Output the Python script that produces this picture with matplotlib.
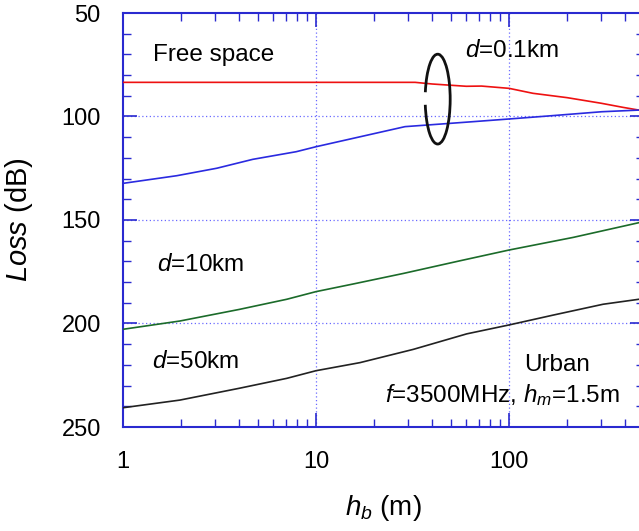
import matplotlib
matplotlib.use('Agg')
import matplotlib.pyplot as plt
from matplotlib.patches import Arc
from matplotlib.ticker import LogLocator, MultipleLocator, FixedLocator, FixedFormatter, NullFormatter

plt.rcParams['font.family'] = ['Liberation Sans', 'DejaVu Sans']
plt.rcParams['mathtext.fontset'] = 'custom'
plt.rcParams['mathtext.it'] = 'Liberation Sans:italic'
plt.rcParams['mathtext.rm'] = 'Liberation Sans'

# values (h_b in m, loss in dB)
hb_free = [1, 32.6, 40, 60, 72, 100, 133, 200, 300, 390, 470, 500]
loss_free = [83.5, 83.5, 84.3, 85.4, 85.3, 86.4, 88.8, 90.9, 93.6, 95.6, 96.9, 97.4]

hb_d01 = [1, 1.9, 3.06, 4.7, 7.9, 10, 16.9, 28.9, 42, 65, 100, 157, 302, 470, 500]
loss_d01 = [132.3, 128.6, 125.0, 120.7, 117.0, 114.6, 109.8, 104.9, 103.8, 102.5, 101.2, 99.8, 97.7, 96.9, 96.8]

hb_d10 = [1, 1.97, 4.0, 7.05, 10, 15.6, 28.4, 55.7, 100, 215, 470, 500]
loss_d10 = [202.8, 198.8, 193.2, 188.3, 184.6, 180.9, 175.8, 169.7, 164.5, 158.4, 151.3, 150.6]

hb_d50 = [1, 1.97, 4.0, 7.05, 10, 16.9, 31.9, 60.4, 100, 170, 307, 470, 500]
loss_d50 = [240.7, 237.0, 231.3, 226.5, 222.8, 218.9, 212.5, 205.0, 200.7, 195.9, 190.7, 188.3, 188.0]

x_ticks = [1, 10, 100]
x_ticklabels = ['1', '10', '100']
grid_x = [10, 100]
grid_y = [100, 150, 200]

axis_blue = '#2a2ad0'
grid_blue = '#6a6aff'

fig = plt.figure(figsize=(6.39, 5.31), dpi=100)
ax = fig.add_axes([123 / 639, 1 - 427 / 531, 521 / 639, 414 / 531])

for gx in grid_x:
    ax.axvline(gx, color=grid_blue, lw=0.9, ls=(0, (1, 2)), zorder=1)
for gy in grid_y:
    ax.axhline(gy, color=grid_blue, lw=0.9, ls=(0, (1, 2)), zorder=1)

ax.plot(hb_free, loss_free, color='#ee1111', lw=1.2, zorder=3)
ax.plot(hb_d01, loss_d01, color='#2a2ae0', lw=1.2, zorder=3)
ax.plot(hb_d10, loss_d10, color='#1b6b2a', lw=1.2, zorder=3)
ax.plot(hb_d50, loss_d50, color='#222222', lw=1.2, zorder=3)

ax.set_xscale('log')
ax.set_xlim(1, 500)
ax.set_ylim(250, 50)

ax.xaxis.set_major_locator(FixedLocator(x_ticks))
ax.xaxis.set_major_formatter(FixedFormatter(x_ticklabels))
ax.xaxis.set_minor_locator(LogLocator(base=10, subs=range(2, 10)))
ax.xaxis.set_minor_formatter(NullFormatter())
ax.yaxis.set_major_locator(MultipleLocator(50))
ax.yaxis.set_minor_locator(MultipleLocator(10))

ax.tick_params(which='both', direction='in', top=True, right=True, color=axis_blue,
               labelsize=17)
ax.tick_params(which='major', length=10, width=1.2)
ax.tick_params(which='minor', length=6, width=1.0)
ax.tick_params(axis='y', pad=16)
ax.tick_params(axis='x', pad=17)
for sp in ax.spines.values():
    sp.set_color(axis_blue)
    sp.set_linewidth(1.5)

ax.set_xlabel(r'$h_b$ (m)', fontsize=20, labelpad=15)
ax.set_ylabel(r'$\mathit{Loss}$ (dB)', fontsize=21, labelpad=19)

ax.text(1.43, 70.3, 'Free space', fontsize=17.5, va='center', ha='left')
ax.text(59, 68.5, r'$d$=0.1km', fontsize=17.5, va='center', ha='left')
ax.text(1.5, 171.7, r'$d$=10km', fontsize=17.5, va='center', ha='left')
ax.text(1.41, 218.4, r'$d$=50km', fontsize=17.5, va='center', ha='left')
ax.text(120, 220, 'Urban', fontsize=17.5, va='center', ha='left')
ax.text(22.8, 234.5, r'$f$=3500MHz, $h_m$=1.5m', fontsize=17.5, va='center', ha='left')

# open ellipse grouping the d=0.1km curves
ax.add_patch(Arc((0.604, 0.792), 0.048, 0.217, theta1=-150, theta2=145,
                 transform=ax.transAxes, color='#111111', lw=2.0, zorder=4))

fig.savefig('out.png', dpi=100)
